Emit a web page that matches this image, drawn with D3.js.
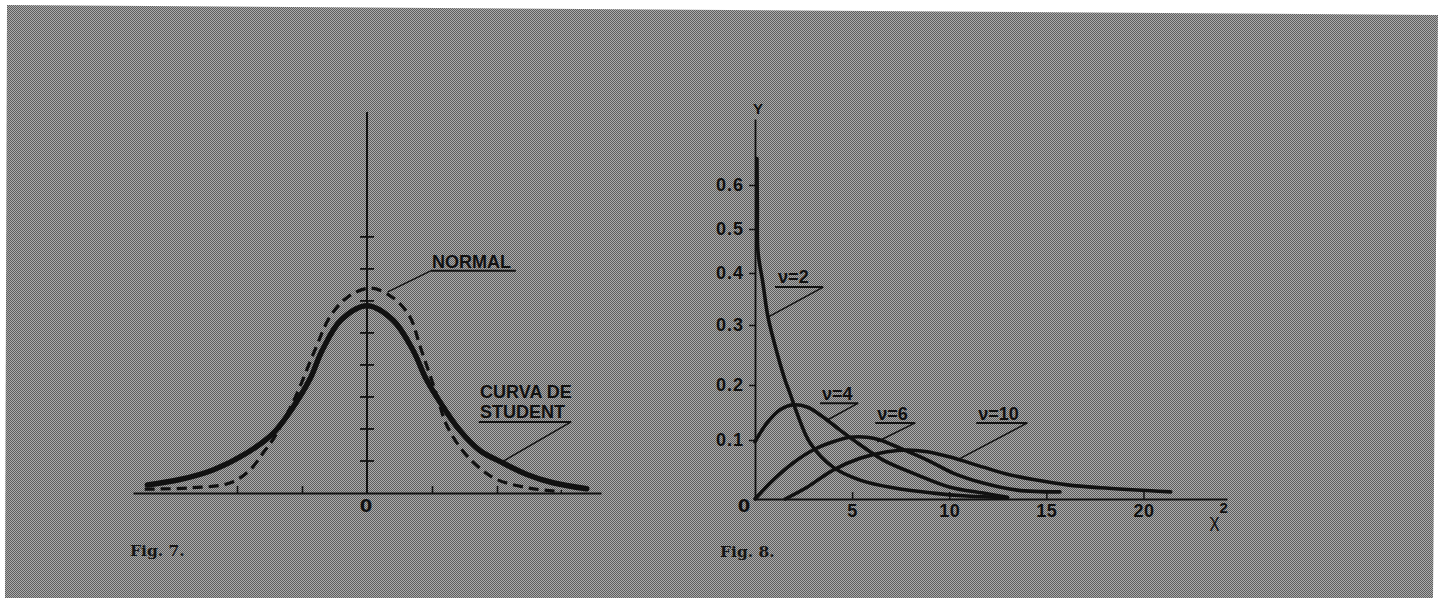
<!DOCTYPE html>
<html>
<head>
<meta charset="utf-8">
<title>Fig. 7 - Fig. 8</title>
<script src="https://cdn.jsdelivr.net/npm/d3@7"></script>
<style>
  body { margin: 0; background: #fff; }
  svg { display: block; }
  .lbl { font-family: "Liberation Sans", Arial, sans-serif; font-weight: bold; fill: #111; }
  .num { font-family: "Liberation Sans", Arial, sans-serif; font-weight: bold; fill: #111; }
  .cap { font-family: "DejaVu Serif", serif; font-weight: bold; fill: #161616; }
</style>
</head>
<body>

<div id="chart"></div>

<script>

// fig 7 -- normal vs student; x in axis tick units, y in axis tick units
var fig7XTicks = [-2, -1, 1, 2];
var fig7YTicks = [1, 2, 3, 4, 5, 6, 7, 8];

var normalCurve = [
  [-3.42, 0.12], [-2.72, 0.16], [-2.11, 0.31], [-1.8, 0.72], [-1.6, 1.25],
  [-1.45, 1.66], [-1.3, 2.2], [-1.1, 3.0], [-0.8, 4.47], [-0.57, 5.5],
  [-0.31, 6.1], [0.05, 6.4], [0.4, 6.1], [0.66, 5.5], [0.82, 4.56],
  [1.05, 3.2], [1.23, 2.1], [1.48, 1.3], [1.75, 0.75], [2.0, 0.42],
  [2.5, 0.15], [3.0, 0.04]
];

var studentCurve = [
  [-3.38, 0.25], [-2.88, 0.42], [-2.37, 0.72], [-1.85, 1.25], [-1.45, 1.85],
  [-1.18, 2.55], [-0.88, 3.55], [-0.69, 4.45], [-0.4, 5.4], [0, 5.85],
  [0.4, 5.4], [0.71, 4.45], [0.9, 3.6], [1.12, 2.85], [1.43, 1.95],
  [1.74, 1.32], [2.05, 0.98], [2.46, 0.58], [2.86, 0.32], [3.38, 0.13]
];

// fig 8 -- chi square densities
var fig8XTicks = [5, 10, 15, 20];
var fig8YTicks = [0.1, 0.2, 0.3, 0.4, 0.5, 0.6];

var chiNu2 = [
  [0.1, 0.66], [0.12, 0.55], [0.15, 0.45], [0.41, 0.38], [0.67, 0.315],
  [1.19, 0.247], [1.55, 0.208], [1.8, 0.185], [2.16, 0.149], [2.84, 0.095],
  [4.02, 0.054], [5.41, 0.032], [7.11, 0.019], [9.18, 0.010], [10.9, 0.005],
  [13.0, 0.002]
];
var chiNu4 = [
  [0, 0.097], [0.62, 0.131], [1.29, 0.155], [1.96, 0.164], [2.68, 0.160],
  [3.5, 0.142], [4.38, 0.118], [5.41, 0.092], [6.6, 0.066], [8.35, 0.041],
  [10.05, 0.020], [11.75, 0.010], [13.0, 0.003]
];
var chiNu6 = [
  [0, 0], [0.93, 0.032], [1.96, 0.061], [2.99, 0.083], [4.02, 0.097],
  [4.9, 0.105], [5.77, 0.105], [6.44, 0.1], [7.47, 0.086], [8.87, 0.066],
  [10.2, 0.044], [11.75, 0.027], [13.5, 0.015], [15.7, 0.012]
];
var chiNu10 = [
  [1.55, 0], [2.68, 0.020], [4.02, 0.049], [5.41, 0.069], [6.8, 0.080],
  [7.84, 0.083], [8.87, 0.080], [10.05, 0.071], [11.75, 0.054], [12.9, 0.043],
  [14.33, 0.033], [16.08, 0.024], [17.78, 0.019], [21.4, 0.012]
];

var nuLabels = ['\u03bd=2', '\u03bd=4', '\u03bd=6', '\u03bd=10'];

var w = 1444,
    h = 598,
    ink = '#111';

var svg = d3.select('#chart').append('svg')
    .attr('width', w)
    .attr('height', h);

// halftone screen of the printed page
var pat = svg.append('defs').append('pattern')
    .attr('id', 'screen')
    .attr('patternUnits', 'userSpaceOnUse')
    .attr('width', 2)
    .attr('height', 2);
pat.append('rect').attr('width', 2).attr('height', 2).attr('fill', '#ababab');
pat.append('rect').attr('width', 1).attr('height', 1).attr('fill', '#5e5e5e');
pat.append('rect').attr('x', 1).attr('y', 1).attr('width', 1).attr('height', 1).attr('fill', '#5e5e5e');

svg.append('polygon')
    .attr('points', '7,5 1438,15 1433,598 5,598')
    .attr('fill', 'url(#screen)');

/* ---------- Fig. 7 ---------- */

var x7 = d3.scaleLinear().domain([-3.6, 3.6]).range([133, 601]);
var y7 = d3.scaleLinear().domain([0, 11.9]).range([493, 112]);

var g7 = svg.append('g');

g7.append('g')
    .attr('transform', 'translate(0,' + y7(0) + ')')
    .attr('color', ink)
    .call(d3.axisBottom(x7).tickValues(fig7XTicks).tickSize(-7).tickSizeOuter(0).tickFormat(''))
    .call(function(g){
      g.select('.domain').attr('stroke-width', 2);
      g.selectAll('.tick line').attr('stroke-width', 1.6);
    });

g7.append('line')
    .attr('x1', x7(0)).attr('x2', x7(0))
    .attr('y1', y7(0)).attr('y2', y7(11.9))
    .attr('stroke', ink).attr('stroke-width', 2);

g7.selectAll('line.ytick')
    .data(fig7YTicks)
    .enter().append('line')
    .classed('ytick', true)
    .attr('x1', x7(0) - 7).attr('x2', x7(0) + 7)
    .attr('y1', function(d){ return y7(d); })
    .attr('y2', function(d){ return y7(d); })
    .attr('stroke', ink).attr('stroke-width', 1.8);

var line7 = d3.line()
    .x(function(d){ return x7(d[0]); })
    .y(function(d){ return y7(d[1]); })
    .curve(d3.curveCatmullRom.alpha(0.5));

g7.append('path')
    .datum(normalCurve)
    .attr('d', line7)
    .attr('fill', 'none').attr('stroke', ink)
    .attr('stroke-width', 3.2)
    .attr('stroke-dasharray', '10,6');

g7.append('path')
    .datum(studentCurve)
    .attr('d', line7)
    .attr('fill', 'none').attr('stroke', ink)
    .attr('stroke-width', 5.5)
    .attr('stroke-linecap', 'round');

g7.append('text')
    .attr('class', 'lbl')
    .attr('x', x7(0) - 1).attr('y', y7(0) + 19)
    .attr('text-anchor', 'middle')
    .style('font-family', '"DejaVu Sans", sans-serif')
    .style('font-size', '18px')
    .text('0');

// label with underline and a leader line from (sx, uy) to the curve point (lx, ly)
function tag(g, xs, ys, lines, x0, yb, ux0, ux1, uy, sx, lx, ly, size){
  var t = g.append('text').attr('class', 'lbl').style('font-size', size + 'px');
  lines.forEach(function(s, i){
    t.append('tspan').attr('x', xs(x0)).attr('y', ys(yb) + i * 20).text(s);
  });
  g.append('line')
      .attr('x1', xs(ux0)).attr('x2', xs(ux1))
      .attr('y1', ys(uy)).attr('y2', ys(uy))
      .attr('stroke', ink).attr('stroke-width', 2);
  g.append('line')
      .attr('x1', xs(sx)).attr('y1', ys(uy))
      .attr('x2', xs(lx)).attr('y2', ys(ly))
      .attr('stroke', ink).attr('stroke-width', 1.5);
}

tag(g7, x7, y7, ['NORMAL'], 1.0, 7.03, 0.98, 2.29, 6.94, 0.98, 0.32, 6.28, 18);
tag(g7, x7, y7, ['CURVA DE', 'STUDENT'], 1.74, 2.97, 1.72, 3.14, 2.22, 3.14, 2.05, 0.94, 18);

svg.append('text')
    .attr('class', 'cap')
    .attr('x', 130).attr('y', 556)
    .style('font-size', '15.5px')
    .text('Fig. 7.');

/* ---------- Fig. 8 ---------- */

var x8 = d3.scaleLinear().domain([0, 24.3]).range([755, 1227]);
var y8 = d3.scaleLinear()
    .domain([0, 0.1, 0.2, 0.3, 0.4, 0.5, 0.6, 0.75])
    .range([499, 440, 385, 325, 273, 229, 185, 119]);

var g8 = svg.append('g');

g8.append('g')
    .attr('transform', 'translate(0,' + y8(0) + ')')
    .attr('color', ink)
    .call(d3.axisBottom(x8).tickValues(fig8XTicks).tickSize(-7).tickSizeOuter(0).tickPadding(5))
    .call(function(g){
      g.select('.domain').attr('stroke-width', 1.8);
      g.selectAll('.tick line').attr('stroke-width', 1.5);
      g.selectAll('.tick text').attr('class', 'num').attr('font-size', null).attr('font-family', null)
          .style('font-size', '18px').style('letter-spacing', '0.5px');
    });

g8.append('g')
    .attr('transform', 'translate(' + x8(0) + ',0)')
    .attr('color', ink)
    .call(d3.axisLeft(y8).tickValues(fig8YTicks).tickSize(6).tickSizeOuter(0).tickPadding(5)
        .tickFormat(d3.format('.1f')))
    .call(function(g){
      g.select('.domain').attr('stroke-width', 1.8);
      g.selectAll('.tick line').attr('stroke-width', 1.5);
      g.selectAll('.tick text').attr('class', 'num').attr('font-size', null).attr('font-family', null)
          .style('font-size', '18px').style('letter-spacing', '1px');
    });

g8.append('text')
    .attr('class', 'lbl')
    .attr('x', x8(0) - 11).attr('y', y8(0) + 13)
    .attr('text-anchor', 'middle')
    .style('font-family', '"DejaVu Sans", sans-serif')
    .style('font-size', '18px')
    .text('0');

g8.append('text')
    .attr('class', 'lbl')
    .attr('x', x8(0) + 3).attr('y', y8(0.75) - 5)
    .attr('text-anchor', 'middle')
    .style('font-size', '15px')
    .text('Y');

var chiLabel = g8.append('text')
    .attr('class', 'lbl')
    .attr('x', x8(23.4)).attr('y', y8(0) + 28)
    .style('font-size', '19px')
    .style('font-weight', 'normal');
chiLabel.append('tspan').text('\u03c7');
chiLabel.append('tspan').attr('dy', -14).style('font-size', '15px').style('font-weight', 'bold').text('2');

var line8 = d3.line()
    .x(function(d){ return x8(d[0]); })
    .y(function(d){ return y8(d[1]); })
    .curve(d3.curveCatmullRom.alpha(0.5));

g8.selectAll('path.chi')
    .data([chiNu2, chiNu4, chiNu6, chiNu10])
    .enter().append('path')
    .classed('chi', true)
    .attr('d', line8)
    .attr('fill', 'none').attr('stroke', ink)
    .attr('stroke-width', 3.6)
    .attr('stroke-linecap', 'round');

// nu labels: text x, baseline, underline x0/x1/y, leader end on curve
var nuTags = [
  [1.19, 0.381, 1.03, 3.51, 0.373, 0.67, 0.315],
  [3.45, 0.173, 3.35, 5.31, 0.167, 3.66, 0.135],
  [6.29, 0.136, 6.19, 8.25, 0.131, 6.29, 0.097],
  [11.49, 0.136, 11.39, 14.02, 0.131, 10.57, 0.069]
];
nuTags.forEach(function(p, i){
  tag(g8, x8, y8, [nuLabels[i]], p[0], p[1], p[2], p[3], p[4], p[3], p[5], p[6], 18);
});

svg.append('text')
    .attr('class', 'cap')
    .attr('x', 720).attr('y', 557)
    .style('font-size', '15.5px')
    .text('Fig. 8.');

</script>

</body>
</html>
